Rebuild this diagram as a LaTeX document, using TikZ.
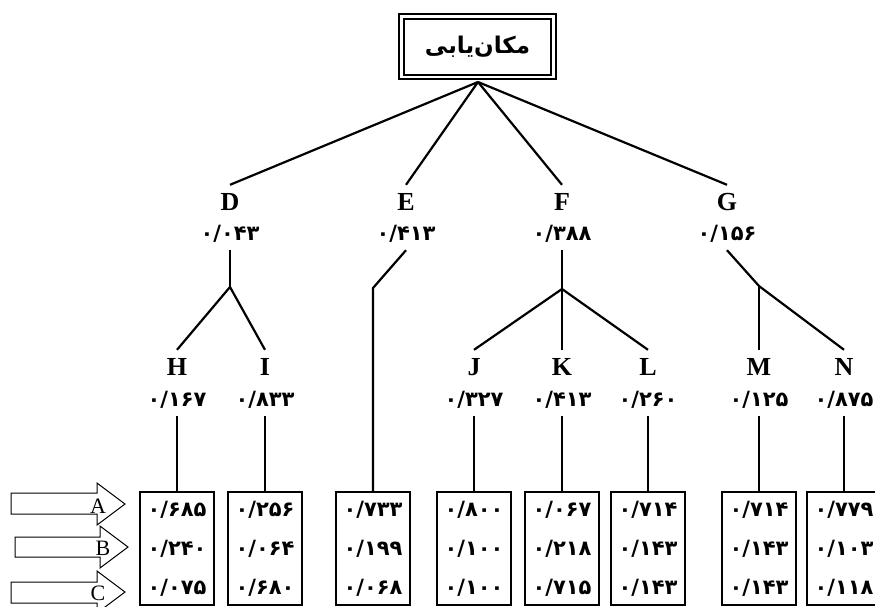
\documentclass[tikz,border=0pt]{standalone}
\usepackage{fontspec}
\setmainfont{Liberation Serif}
\newfontfamily\fafont[Script=Arabic]{DejaVu Sans}
\TeXXeTstate=1

\begin{document}
\begin{tikzpicture}[x=1pt,y=-1pt,
    letter/.style={font=\fontsize{26}{26}\selectfont\bfseries, text height=17pt, text depth=0pt, inner xsep=2pt, inner ysep=8.5pt},
    weight/.style={font=\fafont\bfseries\fontsize{21}{21}\selectfont, text height=15pt, text depth=0pt, inner xsep=2pt, inner ysep=9.5pt},
    valbox/.style={draw, line width=2pt, anchor=north, align=center, minimum width=74pt, minimum height=113pt, inner sep=0pt, font=\fafont\bfseries\fontsize{21}{39}\selectfont},
    branch/.style={line width=2.2pt},
    inarrow/.style={draw, line width=1pt},
    abc/.style={font=\fontsize{22}{22}\selectfont, inner sep=0pt}]
  \useasboundingbox (0,0) rectangle (875,606);

  % goal
  \node (root) [draw, line width=2.2pt, double=white, double distance=2.5pt, minimum width=152pt, minimum height=60.5pt] at (477.5,46.75)
      {\fafont\bfseries\fontsize{23}{23}\selectfont\beginR مکان^^^^200cیابی\endR};
  \coordinate (apex) at (478,82);

  % criteria
  \node (D) [letter] at (230,202) {D};
  \node (Dv) [weight] at (230,233) {۰/۰۴۳};
  \node (E) [letter] at (406,202) {E};
  \node (Ev) [weight] at (406,233) {۰/۴۱۳};
  \node (F) [letter] at (562,202) {F};
  \node (Fv) [weight] at (562,233) {۰/۳۸۸};
  \node (G) [letter] at (727,202) {G};
  \node (Gv) [weight] at (727,233) {۰/۱۵۶};
  \draw [branch] (apex) -- (D.north);
  \draw [branch] (apex) -- (E.north);
  \draw [branch] (apex) -- (F.north);
  \draw [branch] (apex) -- (G.north);

  % sub criteria
  \node (H) [letter] at (177,367) {H};
  \node (Hv) [weight] at (177,399) {۰/۱۶۷};
  \node (I) [letter] at (265,367) {I};
  \node (Iv) [weight] at (265,399) {۰/۸۳۳};
  \node (J) [letter] at (474,367) {J};
  \node (Jv) [weight] at (474,399) {۰/۳۲۷};
  \node (K) [letter] at (562,367) {K};
  \node (Kv) [weight] at (562,399) {۰/۴۱۳};
  \node (L) [letter] at (648,367) {L};
  \node (Lv) [weight] at (648,399) {۰/۲۶۰};
  \node (M) [letter] at (759,367) {M};
  \node (Mv) [weight] at (759,399) {۰/۱۲۵};
  \node (N) [letter] at (844,367) {N};
  \node (Nv) [weight] at (844,399) {۰/۸۷۵};

  \coordinate (Dj) at (230,287);
  \draw [branch] (Dv.south) -- (Dj);
  \draw [branch] (Dj) -- (H.north);
  \draw [branch] (Dj) -- (I.north);
  \coordinate (Ek) at (373,288);
  \coordinate (Fj) at (562,289);
  \draw [branch] (Fv.south) -- (Fj);
  \draw [branch] (Fj) -- (J.north);
  \draw [branch] (Fj) -- (K.north);
  \draw [branch] (Fj) -- (L.north);
  \coordinate (Gj) at (759,286);
  \draw [branch] (Gv.south) -- (Gj) -- (N.north);
  \draw [branch] (Gj) -- (M.north);

  % alternatives
  \node (Hbox) [valbox] at (177,491) {۰/۶۸۵\\۰/۲۴۰\\۰/۰۷۵};
  \node (Ibox) [valbox] at (265,491) {۰/۲۵۶\\۰/۰۶۴\\۰/۶۸۰};
  \node (Ebox) [valbox] at (373,491) {۰/۷۳۳\\۰/۱۹۹\\۰/۰۶۸};
  \node (Jbox) [valbox] at (474,491) {۰/۸۰۰\\۰/۱۰۰\\۰/۱۰۰};
  \node (Kbox) [valbox] at (562,491) {۰/۰۶۷\\۰/۲۱۸\\۰/۷۱۵};
  \node (Lbox) [valbox] at (648,491) {۰/۷۱۴\\۰/۱۴۳\\۰/۱۴۳};
  \node (Mbox) [valbox] at (759,491) {۰/۷۱۴\\۰/۱۴۳\\۰/۱۴۳};
  \node (Nbox) [valbox] at (844,491) {۰/۷۷۹\\۰/۱۰۳\\۰/۱۱۸};
  \draw [branch] (Hv.south) -- (Hbox.north);
  \draw [branch] (Iv.south) -- (Ibox.north);
  \draw [branch] (Ev.south) -- (Ek) -- (Ebox.north);
  \draw [branch] (Jv.south) -- (Jbox.north);
  \draw [branch] (Kv.south) -- (Kbox.north);
  \draw [branch] (Lv.south) -- (Lbox.north);
  \draw [branch] (Mv.south) -- (Mbox.north);
  \draw [branch] (Nv.south) -- (Nbox.north);

  % options A, B, C
  \draw [inarrow] (11,493) -- (97,493) -- (97,483) -- (125,504) -- (97,525) -- (97,514) -- (11,514) -- cycle;
  \node (A) [abc] at (98,506) {A};
  \draw [inarrow] (15,537) -- (100,537) -- (100,526) -- (128,547) -- (100,568) -- (100,557) -- (15,557) -- cycle;
  \node (B) [abc] at (103,548) {B};
  \draw [inarrow] (11,582) -- (97,582) -- (97,571) -- (125,592) -- (97,613) -- (97,603) -- (11,603) -- cycle;
  \node (C) [abc] at (98,593) {C};
\end{tikzpicture}
\end{document}
